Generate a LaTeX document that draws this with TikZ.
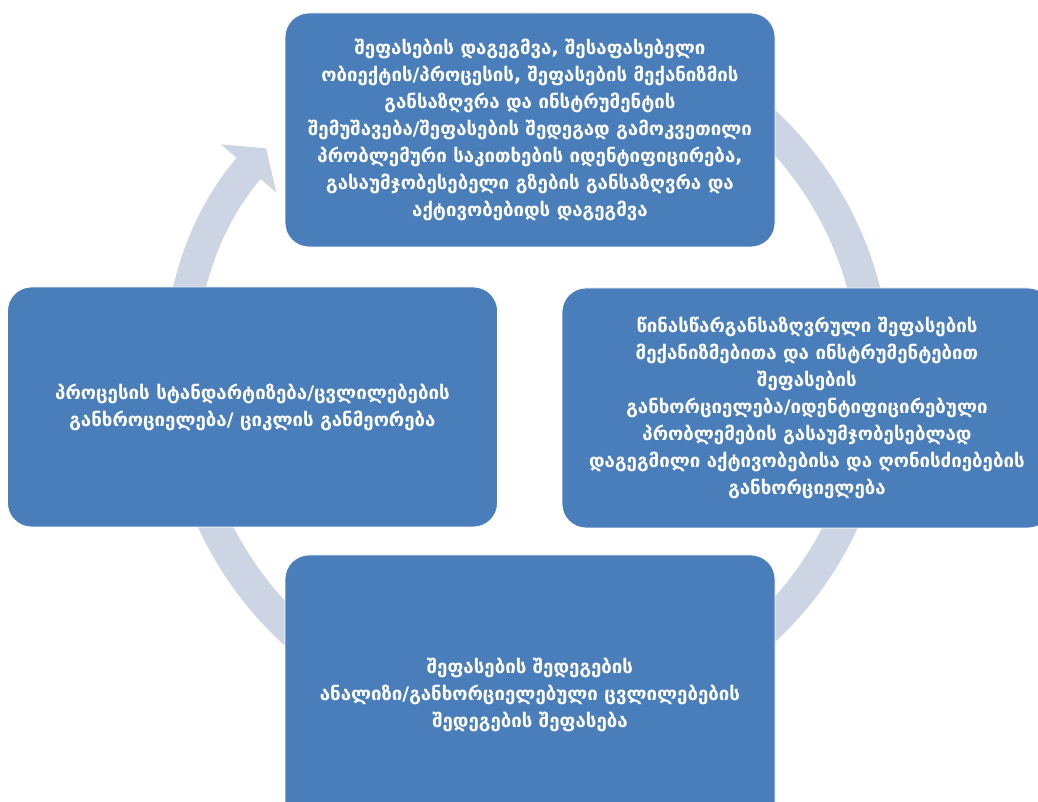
\documentclass[tikz,border=0pt]{standalone}
\usepackage{fontspec}
\setmainfont{DejaVu Sans}
\usepackage{xcolor}
\usepackage{tikz}
\usetikzlibrary{arrows.meta, positioning}
\definecolor{stageblue}{HTML}{4A7EBB}
\definecolor{ringgrey}{HTML}{CDD4E4}

\begin{document}
\begin{tikzpicture}[x=0.75pt,y=0.75pt,
  stage/.style={fill=stageblue,draw=white,line width=0.6pt,rounded corners=18pt,
    text=white,align=center,font=\bfseries\fontsize{14}{20.3}\selectfont,
    minimum width=367.5pt,inner sep=4pt},
  cycle/.style={ringgrey,line width=24pt,
    -{Triangle[length=20pt,width=54pt]}}]
\useasboundingbox (0,0) rectangle (1038,802);
\clip (0,0) rectangle (1038,802);
\path coordinate (o) at (528,426);
\draw[cycle] (o) ++(120:347) arc[start angle=120,end angle=-221,radius=347];
\node[stage,minimum height=175.5pt] (plan) at (530,672)
  {შეფასების დაგეგმვა, შესაფასებელი\\
   ობიექტის/პროცესის, შეფასების მექანიზმის\\
   განსაზღვრა და ინსტრუმენტის\\
   შემუშავება/შეფასების შედეგად გამოკვეთილი\\
   პრობლემური საკითხების იდენტიფიცირება,\\
   გასაუმჯობესებელი გზების განსაზღვრა და\\
   აქტივობებიდს დაგეგმვა};
\node[stage,minimum height=180pt] (impl) at (807,394)
  {წინასწარგანსაზღვრული შეფასების\\
   მექანიზმებითა და ინსტრუმენტებით\\
   შეფასების\\
   განხორციელება/იდენტიფიცირებული\\
   პრობლემების გასაუმჯობესებლად\\
   დაგეგმილი აქტივობებისა და ღონისძიებების\\
   განხორციელება};
\node[stage,minimum height=210pt] (review) at (530,107)
  {შეფასების შედეგების\\
   ანალიზი/განხორციელებული ცვლილებების\\
   შედეგების შეფასება};
\node[stage,minimum height=180pt] (standard) at (252.5,395)
  {პროცესის სტანდარტიზება/ცვლილებების\\
   განხროციელება/ ციკლის განმეორება};
\end{tikzpicture}
\end{document}
